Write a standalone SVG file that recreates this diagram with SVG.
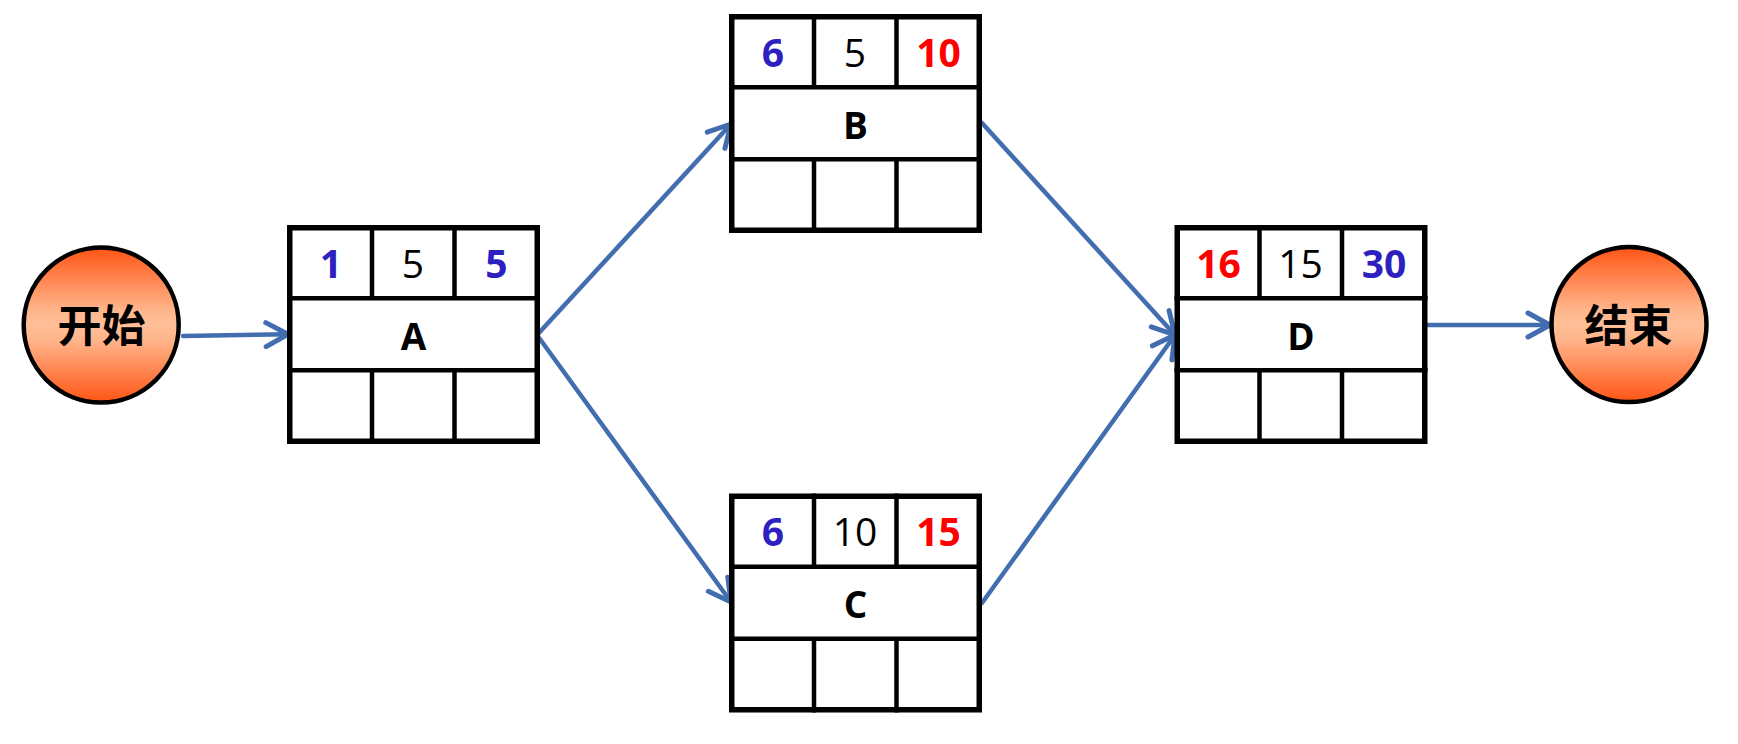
<svg xmlns="http://www.w3.org/2000/svg" width="1738" height="744" viewBox="0 0 1738 744">
<defs>
<linearGradient id="orb" x1="0" y1="0" x2="0" y2="1">
<stop offset="0" stop-color="#FF5414"/>
<stop offset="0.4" stop-color="#FFB48A"/>
<stop offset="0.5" stop-color="#FFBF98"/>
<stop offset="0.6" stop-color="#FFB48A"/>
<stop offset="1" stop-color="#FF5414"/>
</linearGradient>
<marker id="arr" markerUnits="userSpaceOnUse" viewBox="-28 -16 32 32" refX="0" refY="0" markerWidth="32" markerHeight="32" orient="auto" overflow="visible">
<path d="M-22,-12 L0,0 L-22,12" fill="none" stroke="#426EB0" stroke-width="5" stroke-linecap="round" stroke-linejoin="round"/>
</marker>
<style>
.box{fill:#fff;stroke:#000;stroke-width:5.5}
.div{stroke:#000;stroke-width:4.5;fill:none}
.orb{fill:url(#orb);stroke:#000;stroke-width:4.5}
.t{font-family:"Open Sans","Liberation Sans","Noto Sans CJK SC",sans-serif;font-size:39px;text-anchor:middle}
.b{font-weight:bold}
.blue{fill:#2E1FC0}
.red{fill:#FF0000}
.blk{fill:#000}
.lbl{font-family:"Open Sans","Liberation Sans",sans-serif;font-size:37px;font-weight:bold;text-anchor:middle;fill:#000}
.cjk{font-family:"Noto Sans CJK SC","Noto Sans CJK TC",sans-serif;font-size:44px;font-weight:bold;text-anchor:middle;fill:#000}
.edge{stroke:#426EB0;stroke-width:4.5;fill:none;stroke-linecap:round;marker-end:url(#arr)}
</style>
</defs>
<rect width="1738" height="744" fill="#fff"/>

<g id="connectors">
<line class="edge" x1="183" y1="336" x2="288" y2="334.3"/>
<line class="edge" x1="537" y1="335" x2="731" y2="124"/>
<line class="edge" x1="537" y1="335" x2="731" y2="602"/>
<line class="edge" x1="982" y1="123" x2="1175" y2="335"/>
<line class="edge" x1="982" y1="603" x2="1175" y2="335"/>
<line class="edge" x1="1428" y1="325" x2="1550" y2="325"/>
</g>

<g id="start">
<circle class="orb" cx="101.2" cy="325" r="77.5"/>
<text class="cjk" x="101.5" y="342">开始</text>
</g>

<g id="end">
<circle class="orb" cx="1629" cy="324.5" r="77.5"/>
<text class="cjk" x="1628.5" y="342">结束</text>
</g>

<g id="nodeA" transform="translate(287,225)">
<rect class="box" x="2.75" y="2.75" width="247.5" height="213.5"/>
<path class="div" d="M0,73.3 H253 M0,145.3 H253 M85,0 V73.3 M167.5,0 V73.3 M85,145.3 V219 M167.5,145.3 V219"/>
<text class="t b blue" x="44" y="52.5">1</text>
<text class="t blk" x="126" y="52.5">5</text>
<text class="t b blue" x="209.5" y="52.5">5</text>
<text class="lbl" x="126.5" y="124.5">A</text>
</g>

<g id="nodeB" transform="translate(729,14)">
<rect class="box" x="2.75" y="2.75" width="247.5" height="213.5"/>
<path class="div" d="M0,73.3 H253 M0,145.3 H253 M85,0 V73.3 M167.5,0 V73.3 M85,145.3 V219 M167.5,145.3 V219"/>
<text class="t b blue" x="44" y="52.5">6</text>
<text class="t blk" x="126" y="52.5">5</text>
<text class="t b red" x="209.5" y="52.5">10</text>
<text class="lbl" x="126.5" y="124.5">B</text>
</g>

<g id="nodeC" transform="translate(729,493.5)">
<rect class="box" x="2.75" y="2.75" width="247.5" height="213.5"/>
<path class="div" d="M0,73.3 H253 M0,145.3 H253 M85,0 V73.3 M167.5,0 V73.3 M85,145.3 V219 M167.5,145.3 V219"/>
<text class="t b blue" x="44" y="52.5">6</text>
<text class="t blk" x="126" y="52.5">10</text>
<text class="t b red" x="209.5" y="52.5">15</text>
<text class="lbl" x="126.5" y="124.5">C</text>
</g>

<g id="nodeD" transform="translate(1174.5,225)">
<rect class="box" x="2.75" y="2.75" width="247.5" height="213.5"/>
<path class="div" d="M0,73.3 H253 M0,145.3 H253 M85,0 V73.3 M167.5,0 V73.3 M85,145.3 V219 M167.5,145.3 V219"/>
<text class="t b red" x="44" y="52.5">16</text>
<text class="t blk" x="126" y="52.5">15</text>
<text class="t b blue" x="209.5" y="52.5">30</text>
<text class="lbl" x="126.5" y="124.5">D</text>
</g>
</svg>
